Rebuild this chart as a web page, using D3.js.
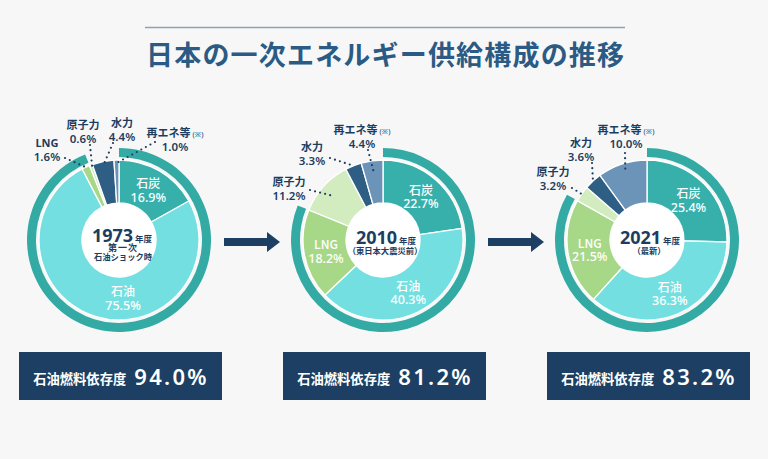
<!DOCTYPE html>
<html><head><meta charset="utf-8">
<script src="https://cdn.jsdelivr.net/npm/d3@7"></script>
<style>
html,body{margin:0;padding:0;background:#f7f7f7;}
svg{display:block;font-family:'Noto Sans','Noto Sans CJK JP',sans-serif;}
</style></head>
<body>
<svg id="chart" width="768" height="459"></svg>
<script>
// ---------- data ----------
const title = "日本の一次エネルギー供給構成の推移";
const years = ["1973", "2010", "2021"];
const sources = ["石炭", "石油", "LNG", "原子力", "水力", "再エネ等"];
const share1973 = [16.9, 75.5, 1.6, 0.6, 4.4, 1.0];
const share2010 = [22.7, 40.3, 18.2, 11.2, 3.3, 4.4];
const share2021 = [25.4, 36.3, 21.5, 3.2, 3.6, 10.0];
const fossilSources = ["石炭", "石油", "LNG"];
const dependenceLabel = "石油燃料依存度";
const dependence = [94.0, 81.2, 83.2];
const yearNotes = [["第一次", "石油ショック時"], ["（東日本大震災前）"], ["（最新）"]];
const shares = [share1973, share2010, share2021];

// ---------- layout / style (not data) ----------
const W = 768, H = 459;
const cy = 240;
const rHole = 37, rPie = 80, rRingIn = 83, rRingOut = 92;
const navy = "#1d3d5f";
const jp = "'Noto Sans CJK JP',sans-serif";
const color = d3.scaleOrdinal(sources, ["#37b0ab", "#74dfe0", "#a7d887", "#d3ecbf", "#2f5e85", "#6b94b8"]);
const ringColor = "#34aaa5";
// outside label placement relative to pie centre (name line centre, leader start, leader end radius)
const outside = {
  "1973": {"LNG": {lx:-72, ly:-97, sx:-54, sy:-82, r:80},
           "原子力": {lx:-36, ly:-115, sx:-29, sy:-95, r:76},
           "水力": {lx:3, ly:-117, sx:-6, sy:-97, r:77},
           "再エネ等": {lx:56, ly:-107, sx:36, sy:-98, r:77}},
  "2010": {"原子力": {lx:-94, ly:-58, sx:-73, sy:-50, r:65},
           "水力": {lx:-71, ly:-93, sx:-53, sy:-82, r:80},
           "再エネ等": {lx:-21, ly:-110, sx:-15, sy:-90, r:70}},
  "2021": {"原子力": {lx:-94, ly:-68, sx:-75, sy:-52, r:76},
           "水力": {lx:-66, ly:-97, sx:-55, sy:-77, r:80},
           "再エネ等": {lx:-21, ly:-110, sx:-22, sy:-87, r:70}}
};
const insideAngle = {"1973": {"石油": 176}};

const svg = d3.select("#chart");
svg.append("rect").attr("width", W).attr("height", H).attr("fill", "#f7f7f7");

// title
svg.append("line").attr("x1", 145).attr("x2", 625).attr("y1", 27.5).attr("y2", 27.5)
  .attr("stroke", "#86a3bc").attr("stroke-width", 1.5);
svg.append("text").attr("x", 385).attr("y", 53).attr("text-anchor", "middle")
  .attr("dominant-baseline", "central")
  .attr("font-family", jp)
  .attr("font-size", 27).attr("font-weight", 700).attr("fill", "#2b5b84")
  .attr("textLength", 478).attr("lengthAdjust", "spacing")
  .text(title);

const x = d3.scalePoint().domain(years).range([119, 647]);
const pie = d3.pie().sort(null).value(d => d.v);
const arcPie = d3.arc().innerRadius(rHole).outerRadius(rPie);
const arcRing = d3.arc().innerRadius(rRingIn).outerRadius(rRingOut);
const pt = (deg, r) => [r * Math.sin(deg * Math.PI / 180), -r * Math.cos(deg * Math.PI / 180)];

years.forEach((yr, i) => {
  const cx = x(yr);
  const g = svg.append("g").attr("transform", `translate(${cx},${cy})`);
  const rows = sources.map((s, j) => ({s, v: shares[i][j]}));
  const arcs = pie(rows);
  const total = d3.sum(rows, d => d.v);
  const fossil = d3.sum(rows.filter(d => fossilSources.includes(d.s)), d => d.v);

  // outer ring: fossil-fuel dependence
  g.append("path").attr("d", arcRing({startAngle: 0, endAngle: 2 * Math.PI * fossil / total}))
    .attr("fill", ringColor);

  g.append("circle").attr("r", rHole + 1).attr("fill", "#ffffff");
  g.selectAll("path.slice").data(arcs).join("path").attr("class", "slice")
    .attr("d", arcPie).attr("fill", d => color(d.data.s))
    .attr("stroke", "#ffffff").attr("stroke-width", 1.3).attr("stroke-linejoin", "round");

  // labels
  arcs.forEach(a => {
    const lay = outside[yr][a.data.s];
    if (!lay) {
      let mid = (a.startAngle + a.endAngle) / 2 * 180 / Math.PI;
      if (insideAngle[yr] && insideAngle[yr][a.data.s] !== undefined) mid = insideAngle[yr][a.data.s];
      const [px, py] = pt(mid, 58);
      const t = g.append("g").attr("transform", `translate(${px},${py})`)
        .attr("fill", "#ffffff").attr("text-anchor", "middle").attr("font-weight", 500);
      t.append("text").attr("y", -7).attr("dominant-baseline", "central").attr("font-size", 12)
        .attr("font-family", jp).text(a.data.s);
      t.append("text").attr("y", 7.5).attr("dominant-baseline", "central").attr("font-size", 12.5)
        .text(d3.format(".1f")(a.data.v) + "%");
    } else {
      const mid = (a.startAngle + a.endAngle) / 2 * 180 / Math.PI;
      const [ex, ey] = pt(mid, lay.r);
      g.append("line").attr("x1", lay.sx).attr("y1", lay.sy).attr("x2", ex).attr("y2", ey)
        .attr("stroke", navy).attr("stroke-width", 2.2).attr("stroke-linecap", "round")
        .attr("stroke-dasharray", "0 5.2");
      const t = g.append("g").attr("transform", `translate(${lay.lx},${lay.ly})`)
        .attr("fill", navy).attr("text-anchor", "middle").attr("font-weight", 700);
      const nm = t.append("text").attr("y", 4).attr("font-size", 11);
      nm.append("tspan").text(a.data.s);
      if (a.data.s === "再エネ等") nm.append("tspan").attr("font-size", 7.5).attr("font-weight", 400).attr("dx", 2).text("(※)");
      t.append("text").attr("y", 17.5).attr("font-size", 11.5)
        .attr("font-weight", 600).text(d3.format(".1f")(a.data.v) + "%");
    }
  });

  // centre text
  const notes = yearNotes[i];
  const two = notes.length > 1;
  const ct = g.append("text").attr("x", 3).attr("y", two ? 2 : 3.5).attr("text-anchor", "middle")
    .attr("fill", navy).attr("font-weight", 700);
  ct.append("tspan").attr("font-size", 18).text(yr);
  ct.append("tspan").attr("font-size", 8.5).attr("dx", 2).attr("font-family", jp).text("年度");
  notes.forEach((n, k) => {
    g.append("text").attr("x", two ? 4 : 2).attr("y", two ? 10.5 + k * 9.8 : 13.5)
      .attr("text-anchor", "middle")
      .attr("font-family", jp)
      .attr("fill", navy).attr("font-weight", 700).attr("font-size", (two && k === 0) ? 9 : 8.3)
      .attr("letter-spacing", (two && k === 0) ? 1 : 0)
      .text(n);
  });

  // dependence box
  const bx = cx - 100, bw = 203;
  svg.append("rect").attr("x", bx).attr("y", 352).attr("width", bw).attr("height", 48).attr("fill", "#1c3f63");
  const bt = svg.append("text").attr("x", cx + 2).attr("y", 385).attr("text-anchor", "middle")
    .attr("fill", "#ffffff").attr("font-weight", 700);
  bt.append("tspan").attr("font-size", 13.3).attr("font-family", jp).attr("dy", -1).text(dependenceLabel);
  bt.append("tspan").attr("font-size", 22).attr("dx", 8).attr("dy", 1).attr("font-weight", 600)
    .attr("letter-spacing", 2.3).text(d3.format(".1f")(dependence[i]) + "%");
});

// arrows between years
years.slice(0, -1).forEach((yr, i) => {
  const x0 = x(yr) + 105, x1 = x(years[i + 1]) - 103, ay = 242;
  const p = d3.path();
  p.moveTo(x0, ay - 4); p.lineTo(x1 - 13, ay - 4); p.lineTo(x1 - 13, ay - 10); p.lineTo(x1, ay);
  p.lineTo(x1 - 13, ay + 10); p.lineTo(x1 - 13, ay + 4); p.lineTo(x0, ay + 4); p.closePath();
  svg.append("path").attr("d", p.toString()).attr("fill", "#1c3f63");
});
</script>
</body></html>
